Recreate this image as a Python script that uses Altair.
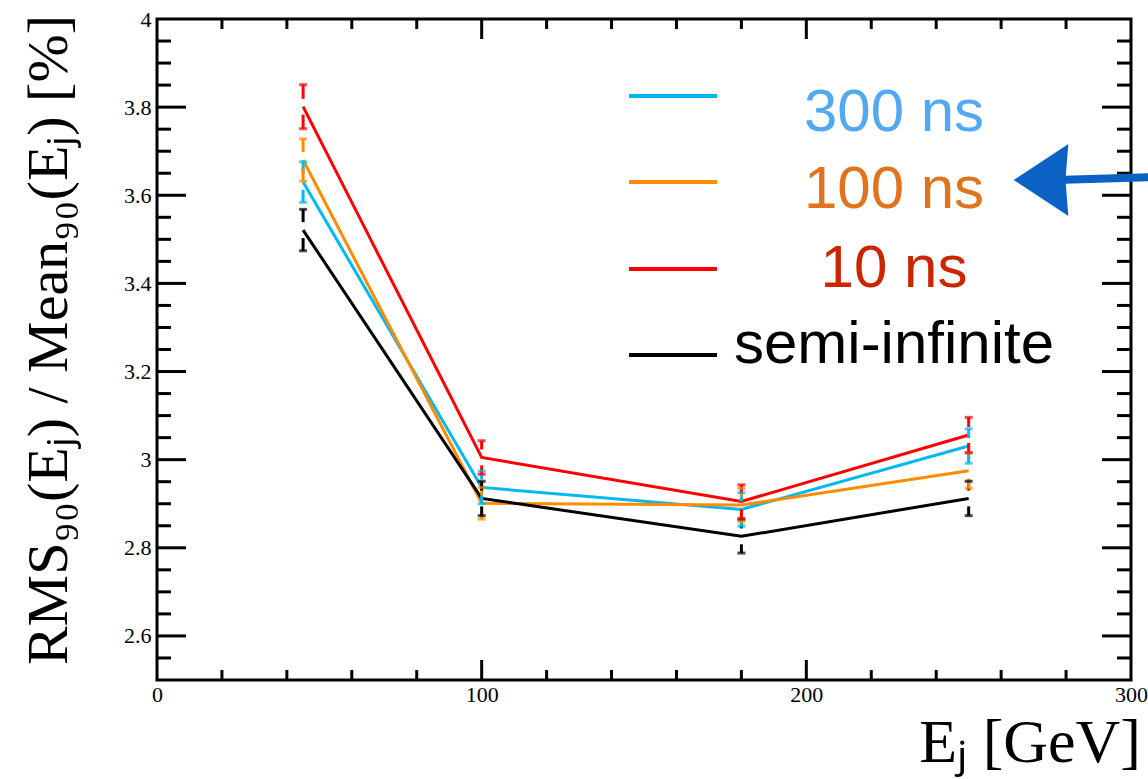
import altair as alt
import pandas as pd

# Jet energy points [GeV]
energies = [45, 100, 180, 250]

# RMS90 / Mean90 [%] for each integration time
rms_300ns = [3.630, 2.937, 2.887, 3.031]
rms_100ns = [3.680, 2.901, 2.897, 2.975]
rms_10ns = [3.801, 3.005, 2.905, 3.056]
rms_semi = [3.521, 2.912, 2.826, 2.912]

# statistical uncertainties
err_300ns = [0.046, 0.037, 0.038, 0.039]
err_100ns = [0.048, 0.036, 0.038, 0.040]
err_10ns = [0.050, 0.038, 0.038, 0.040]
err_semi = [0.047, 0.039, 0.038, 0.039]

series_names = ["300 ns", "100 ns", "10 ns", "semi-infinite"]
line_colors = ["#00b9f2", "#ff8c00", "#ff0000", "#000000"]
label_colors = ["#52a9f2", "#e0731c", "#cc2600", "#000000"]

y_tick_labels = [2.6, 2.8, 3.0, 3.2, 3.4, 3.6, 3.8, 4.0]
x_tick_labels = [0, 100, 200, 300]

W, H = 974, 661
XMIN, XMAX = 0, 300
YMIN, YMAX = 2.5, 4.0
GAP = 0.018  # gap around the point, ROOT style error bars

rows = []
for name, vals, errs in [
    ("300 ns", rms_300ns, err_300ns),
    ("100 ns", rms_100ns, err_100ns),
    ("10 ns", rms_10ns, err_10ns),
    ("semi-infinite", rms_semi, err_semi),
]:
    for e, v, s in zip(energies, vals, errs):
        rows.append({"E": e, "rms": v, "series": name,
                     "hi_in": v + GAP, "hi_out": v + s,
                     "lo_in": v - GAP, "lo_out": v - s})
df = pd.DataFrame(rows)

xs = alt.Scale(domain=[XMIN, XMAX], nice=False, zero=False)
ys = alt.Scale(domain=[YMIN, YMAX], nice=False, zero=False)
col = alt.Color("series:N", scale=alt.Scale(domain=series_names, range=line_colors), legend=None)

serif = "Liberation Serif"
base = alt.Chart(df)

lines = base.mark_line(strokeWidth=3).encode(
    x=alt.X("E:Q", scale=xs, axis=alt.Axis(
        values=x_tick_labels, title=None, ticks=False, tickSize=0, domain=False, grid=False,
        labelFont=serif, labelFontSize=22, labelColor="black", labelPadding=4, labelFlush=False)),
    y=alt.Y("rms:Q", scale=ys, axis=alt.Axis(
        values=y_tick_labels, format="~g", title=None, ticks=False, tickSize=0, domain=False,
        grid=False, labelFont=serif, labelFontSize=22, labelColor="black", labelPadding=6,
        labelFlush=False)),
    color=col,
    detail="series:N",
)

err_hi = base.mark_rule(strokeWidth=3).encode(
    x=alt.X("E:Q", scale=xs), y=alt.Y("hi_in:Q", scale=ys), y2="hi_out:Q", color=col)
err_lo = base.mark_rule(strokeWidth=3).encode(
    x=alt.X("E:Q", scale=xs), y=alt.Y("lo_in:Q", scale=ys), y2="lo_out:Q", color=col)
cap_hi = base.mark_tick(orient="horizontal", size=8, thickness=3).encode(
    x=alt.X("E:Q", scale=xs), y=alt.Y("hi_out:Q", scale=ys), color=col)
cap_lo = base.mark_tick(orient="horizontal", size=8, thickness=3).encode(
    x=alt.X("E:Q", scale=xs), y=alt.Y("lo_out:Q", scale=ys), color=col)

# inward frame ticks
y_major = [round(2.6 + 0.2 * i, 2) for i in range(7)]
y_minor = [round(2.5 + 0.05 * i, 2) for i in range(31)]
y_minor = [v for v in y_minor if all(abs(v - m) > 1e-6 for m in y_major + [2.5, 4.0])]
x_major = [100, 200]
x_minor = [v for v in range(20, 300, 20) if v not in x_major]


def yticks(vals, length):
    d = alt.Chart(pd.DataFrame({"v": vals}))
    left = d.mark_rule(strokeWidth=3, color="black").encode(
        y=alt.Y("v:Q", scale=ys), x=alt.value(0), x2=alt.value(length))
    right = d.mark_rule(strokeWidth=3, color="black").encode(
        y=alt.Y("v:Q", scale=ys), x=alt.value(W - length), x2=alt.value(W))
    return [left, right]


def xticks(vals, length):
    d = alt.Chart(pd.DataFrame({"v": vals}))
    bottom = d.mark_rule(strokeWidth=3, color="black").encode(
        x=alt.X("v:Q", scale=xs), y=alt.value(H - length), y2=alt.value(H))
    top = d.mark_rule(strokeWidth=3, color="black").encode(
        x=alt.X("v:Q", scale=xs), y=alt.value(0), y2=alt.value(length))
    return [bottom, top]


tick_layers = yticks(y_major, 29) + yticks(y_minor, 14) + xticks(x_major, 20) + xticks(x_minor, 10)

# legend
legend_layers = []
line_y = [77, 163, 250, 336]
text_y = [112, 189, 268, 344]
for name, lc, tc, ly, ty in zip(series_names, line_colors, label_colors, line_y, text_y):
    one = alt.Chart(pd.DataFrame({"label": [name]}))
    legend_layers.append(one.mark_rule(strokeWidth=4, color=lc).encode(
        x=alt.value(472), x2=alt.value(560), y=alt.value(ly)))
    legend_layers.append(one.mark_text(
        font="Liberation Sans", fontSize=60, color=tc, align="center", baseline="alphabetic"
    ).encode(x=alt.value(737), y=alt.value(ty), text="label:N"))

# axis titles
y_title = alt.Chart(pd.DataFrame({"t": ["RMS₉₀(Eⱼ) / Mean₉₀(Eⱼ) [%]"]})).mark_text(
    font=serif, fontSize=58, angle=270, align="center", baseline="alphabetic", color="black"
).encode(x=alt.value(-90), y=alt.value(321), text="t:N")
x_title = alt.Chart(pd.DataFrame({"t": ["Eⱼ [GeV]"]})).mark_text(
    font=serif, fontSize=62, align="right", baseline="alphabetic", color="black"
).encode(x=alt.value(984), y=alt.value(743), text="t:N")

# hand-drawn arrow pointing at the 100 ns entry
arrow_color = "#0b62c4"
arrow_src = alt.Chart(pd.DataFrame({"a": [0]}))
shaft = arrow_src.mark_rule(strokeWidth=8, color=arrow_color, strokeCap="round").encode(
    x=alt.value(900), x2=alt.value(1000), y=alt.value(161), y2=alt.value(158))
head = arrow_src.mark_point(
    shape="M -0.76 0 L 0.76 -1 L 0.68 0 L 0.76 1 Z", filled=True, size=5184,
    color=arrow_color, opacity=1, strokeWidth=0
).encode(x=alt.value(884), y=alt.value(161))

chart = alt.layer(
    lines, err_hi, err_lo, cap_hi, cap_lo, *tick_layers, *legend_layers,
    y_title, x_title, shaft, head
).properties(
    width=W, height=H,
    autosize=alt.AutoSizeParams(type="none"),
    padding={"left": 157, "top": 19, "right": 17, "bottom": 99},
    background="white",
).configure_view(stroke="black", strokeWidth=3)

chart.save("out.html", embed_options={"renderer": "svg", "actions": False})
